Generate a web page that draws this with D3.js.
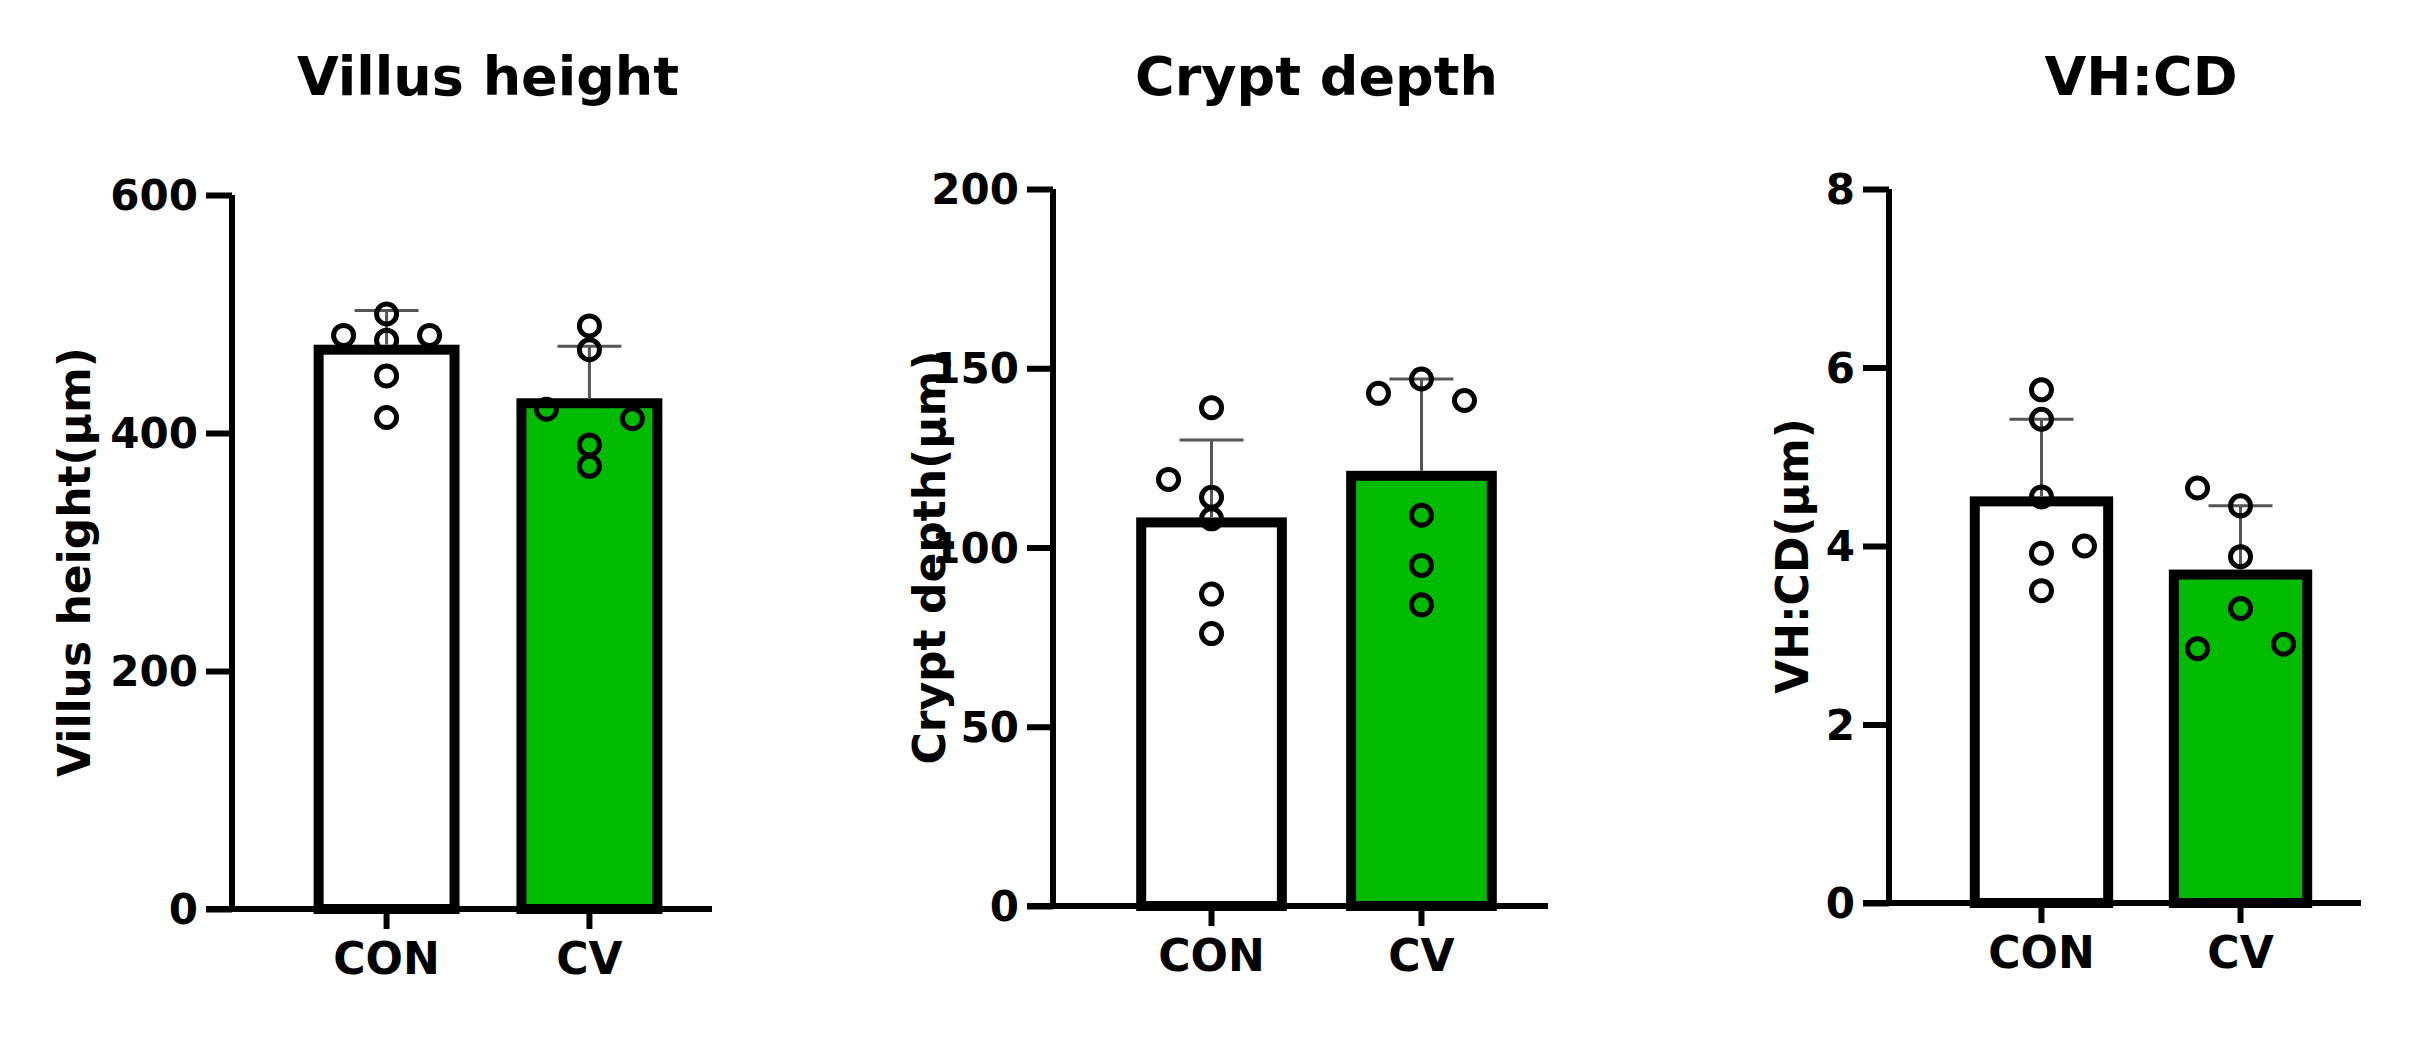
<!DOCTYPE html>
<html>
<head>
<meta charset="utf-8">
<script src="https://cdn.jsdelivr.net/npm/d3@7"></script>
<style>
  body { margin: 0; background: #fff; }
  text { font-family: "DejaVu Sans", Arial, sans-serif; font-weight: bold; }
</style>
</head>
<body>
<svg id="chart" width="2427" height="1043"></svg>
<script>
const groups = ["CON", "CV"];
const titles = ["Villus height", "Crypt depth", "VH:CD"];
const yLabels = ["Villus height(μm)", "Crypt depth(μm)", "VH:CD(μm)"];
const yMax = [600, 200, 8];
const yTicks = [[0, 200, 400, 600], [0, 50, 100, 150, 200], [0, 2, 4, 6, 8]];
const means = [[470, 425], [107, 120], [4.5, 3.68]];
const sds = [[33, 48], [23, 27], [0.92, 0.77]];
const pointsCON = [
  [500, 482, 482, 478, 448, 413],
  [139, 119, 114, 108, 87, 76],
  [5.75, 5.42, 4.55, 4.0, 3.92, 3.5]
];
const pointsCV = [
  [490, 470, 420, 412, 390, 372],
  [147, 143, 141, 109, 95, 84],
  [4.65, 4.45, 3.88, 3.3, 2.9, 2.85]
];
// swarm column of each point (-1 left, 0 centre, 1 right)
const colsCON = [[0, -1, 1, 0, 0, 0], [0, -1, 0, 0, 0, 0], [0, 0, 0, 1, 0, 0]];
const colsCV = [[0, 0, -1, 1, 0, 0], [0, -1, 1, 0, 0, 0], [-1, 0, 0, 0, 1, -1]];

const fills = ["#ffffff", "#00bb00"];
const svg = d3.select("#chart");

// panel layout: axis x, top y, bottom y, axis end x
const panels = [
  { ax: 232, top: 195, bottom: 909, end: 712, lab: 90 },
  { ax: 1053, top: 189, bottom: 906, end: 1548, lab: 945 },
  { ax: 1889, top: 189, bottom: 903, end: 2361, lab: 1808 }
];

panels.forEach((p, i) => {
  const g = svg.append("g");
  const y = d3.scaleLinear().domain([0, yMax[i]]).range([p.bottom, p.top]);
  const x = d3.scaleBand().domain(groups).range([p.ax + 42, p.end - 10]).paddingInner(0.33).paddingOuter(0.22);

  // bars
  g.selectAll("rect.bar").data(groups).join("rect")
    .attr("x", d => x(d))
    .attr("y", (d, j) => y(means[i][j]))
    .attr("width", x.bandwidth())
    .attr("height", (d, j) => p.bottom - y(means[i][j]))
    .attr("fill", (d, j) => fills[j])
    .attr("stroke", "#000")
    .attr("stroke-width", 10);

  // error bars (upper only)
  groups.forEach((grp, j) => {
    const cx = x(grp) + x.bandwidth() / 2;
    const top = y(means[i][j] + sds[i][j]);
    g.append("line").attr("x1", cx).attr("x2", cx)
      .attr("y1", y(means[i][j]) - 5).attr("y2", top)
      .attr("stroke", "#555").attr("stroke-width", 3);
    g.append("line").attr("x1", cx - 32).attr("x2", cx + 32)
      .attr("y1", top).attr("y2", top)
      .attr("stroke", "#555").attr("stroke-width", 3);

    const vals = j === 0 ? pointsCON[i] : pointsCV[i];
    const cols = j === 0 ? colsCON[i] : colsCV[i];
    g.selectAll(null).data(vals).join("circle")
      .attr("cx", (v, k) => cx + cols[k] * 43)
      .attr("cy", v => y(v))
      .attr("r", 10)
      .attr("fill", "none")
      .attr("stroke", "#000")
      .attr("stroke-width", 5);
  });

  // y axis
  const yAxis = g.append("g").attr("transform", `translate(${p.ax},0)`)
    .call(d3.axisLeft(y).tickValues(yTicks[i]).tickSize(26).tickPadding(8));
  // x axis
  const xAxis = g.append("g").attr("transform", `translate(0,${p.bottom})`)
    .call(d3.axisBottom(x).tickSize(20).tickPadding(14));
  xAxis.select(".domain").remove();
  g.append("line").attr("x1", p.ax - 26).attr("x2", p.end)
    .attr("y1", p.bottom).attr("y2", p.bottom)
    .attr("stroke", "#000").attr("stroke-width", 6);

  [yAxis, xAxis].forEach(a => {
    a.selectAll("line").attr("stroke", "#000").attr("stroke-width", 6);
    a.select(".domain").attr("stroke", "#000").attr("stroke-width", 6).attr("d", `M0,${p.bottom}V${p.top}`);
  });
  yAxis.selectAll("text").attr("font-size", 42).attr("font-family", "DejaVu Sans").attr("font-weight", "bold").attr("dy", "0.35em");
  xAxis.selectAll("text").attr("font-size", 44).attr("font-family", "DejaVu Sans").attr("font-weight", "bold");

  // title
  const mid = (x("CON") + x("CV") + x.bandwidth()) / 2;
  svg.append("text").attr("x", mid).attr("y", 95)
    .attr("text-anchor", "middle").attr("font-size", 54).text(titles[i]);

  // y label
  svg.append("text")
    .attr("transform", `translate(${p.lab},${(p.top + p.bottom) / 2 + 10}) rotate(-90)`)
    .attr("text-anchor", "middle").attr("font-size", 44).text(yLabels[i]);
});
</script>
</body>
</html>
